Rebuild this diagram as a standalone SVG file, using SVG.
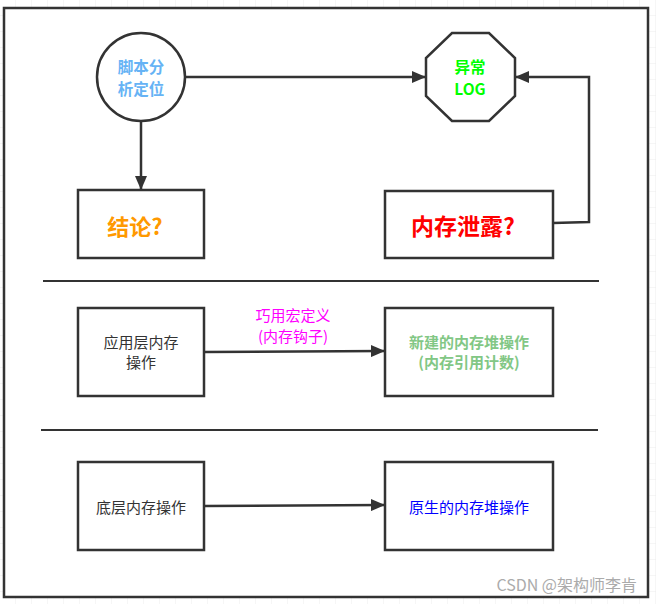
<svg xmlns="http://www.w3.org/2000/svg" width="656" height="604" viewBox="0 0 656 604">
<defs>
<pattern id="grid" width="16" height="16" patternUnits="userSpaceOnUse">
<path d="M16 0V16M0 16H16" fill="none" stroke="#ececec" stroke-width="1"/>
</pattern>
<marker id="arr" markerWidth="14" markerHeight="12" refX="13" refY="6" orient="auto" markerUnits="userSpaceOnUse">
<path d="M0,0 L14,6 L0,12 Z" fill="#333"/>
</marker>
</defs>
<style>
.sh{fill:#fff;stroke:#333;stroke-width:2.5}
.ln{fill:none;stroke:#333;stroke-width:2.5}
.t{font-family:"Microsoft YaHei","Noto Sans CJK SC","Noto Sans",sans-serif;text-anchor:middle;dominant-baseline:central}
.b{font-weight:bold}
</style>
<rect width="656" height="604" fill="#fff"/>
<rect width="656" height="604" fill="url(#grid)"/>
<rect x="4" y="8" width="644" height="589" fill="#fff" stroke="#333" stroke-width="2.5"/>

<g id="connectors">
<line class="ln" x1="185" y1="77" x2="425" y2="77" marker-end="url(#arr)"/>
<line class="ln" x1="141" y1="121" x2="141" y2="189" marker-end="url(#arr)"/>
<polyline class="ln" points="553,223 589,222 589,77 516,77" marker-end="url(#arr)"/>
<line class="ln" x1="204" y1="352" x2="384" y2="351" marker-end="url(#arr)"/>
<line class="ln" x1="204" y1="506" x2="384" y2="505" marker-end="url(#arr)"/>
<text class="t" x="293" y="314" font-size="15" fill="#ff00ff">巧用宏定义</text>
<text class="t" x="293" y="335" font-size="15" fill="#ff00ff">(内存钩子)</text>
</g>

<g id="separators">
<line x1="43" y1="281" x2="599" y2="281" stroke="#333" stroke-width="2"/>
<line x1="41" y1="430" x2="598" y2="430" stroke="#333" stroke-width="2"/>
</g>

<g id="n-script">
<circle class="sh" cx="141" cy="77" r="44"/>
<text class="t b" x="141" y="66" font-size="15.5" fill="#66b3f5">脚本分</text>
<text class="t b" x="141" y="88" font-size="15.5" fill="#66b3f5">析定位</text>
</g>

<g id="n-log">
<polygon class="sh" points="452,33 489,33 515,58 515,96 489,121 452,121 426,96 426,58"/>
<text class="t b" x="470" y="66" font-size="15.5" fill="#00ff00">异常</text>
<text class="t b" x="470" y="88" font-size="15.5" fill="#00ff00">LOG</text>
</g>

<g id="n-conclusion">
<rect class="sh" x="78" y="190" width="126" height="68"/>
<text class="t b" x="135" y="225" font-size="22" fill="#ff9900">结论?</text>
</g>

<g id="n-leak">
<rect class="sh" x="385" y="191" width="168" height="67"/>
<text class="t b" x="463" y="225" font-size="23" fill="#ff0000">内存泄露?</text>
</g>

<g id="n-app">
<rect class="sh" x="78" y="308" width="126" height="88"/>
<text class="t" x="141" y="341" font-size="15" fill="#333">应用层内存</text>
<text class="t" x="141" y="361" font-size="15" fill="#333">操作</text>
</g>

<g id="n-new">
<rect class="sh" x="385" y="308" width="168" height="88"/>
<text class="t b" x="469" y="341" font-size="15" fill="#82c785">新建的内存堆操作</text>
<text class="t b" x="469" y="361" font-size="15" fill="#82c785">(内存引用计数)</text>
</g>

<g id="n-low">
<rect class="sh" x="78" y="462" width="126" height="88"/>
<text class="t" x="141" y="506" font-size="15" fill="#333">底层内存操作</text>
</g>

<g id="n-native">
<rect class="sh" x="385" y="462" width="168" height="88"/>
<text class="t" x="469" y="506" font-size="15" fill="#0000ff">原生的内存堆操作</text>
</g>

<text x="637" y="584" font-family="Microsoft YaHei,Noto Sans CJK SC,sans-serif" font-size="16" fill="#ababab" text-anchor="end" dominant-baseline="central">CSDN @架构师李肯</text>
</svg>
